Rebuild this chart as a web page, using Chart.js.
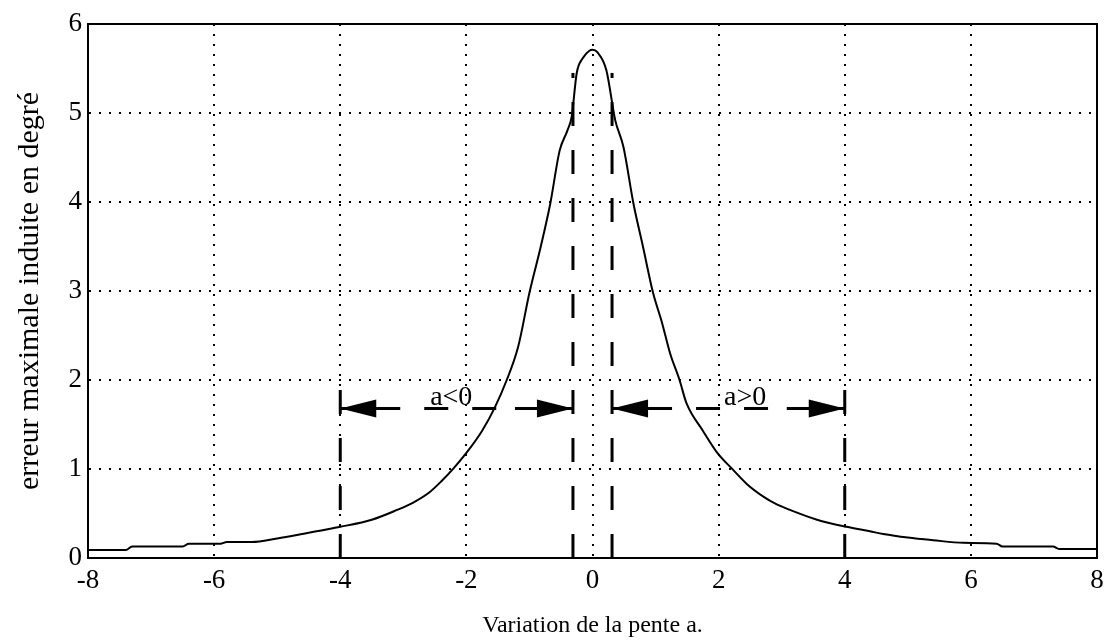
<!DOCTYPE html>
<html>
<head>
<meta charset="utf-8">
<script src="https://cdn.jsdelivr.net/npm/chart.js@4.4.1/dist/chart.umd.min.js"></script>
<style>
  html, body { margin: 0; padding: 0; background: #fff; }
  #wrap { width: 1111px; height: 642px; }
</style>
</head>
<body>
<div id="wrap"><canvas id="courbe" width="1111" height="642"></canvas></div>
<script>
// erreur maximale en fonction de la pente a
var pente = [-8, -7.4, -7.3, -6.5, -6.4, -5.9, -5.8, -5.4, -5.0, -4.6, -4.3, -4.0, -3.5, -3.1, -2.85,
    -2.6, -2.4, -2.2, -2.0, -1.75, -1.55, -1.36, -1.18, -1.0, -0.82, -0.67, -0.52, -0.40, -0.33,
    -0.25, -0.15, -0.05, 0, 0.08, 0.22, 0.36, 0.49, 0.65, 0.80, 0.96, 1.1, 1.23, 1.38, 1.49, 1.75,
    1.97, 2.23, 2.45, 2.71, 2.9, 3.13, 3.56, 4.03, 4.4, 4.61, 5.0, 5.4, 5.88, 6.41, 6.5, 7.3, 7.41, 8];
var erreur = [0.09, 0.09, 0.13, 0.13, 0.16, 0.16, 0.18, 0.18, 0.22, 0.27, 0.31, 0.35, 0.43, 0.54, 0.62,
    0.73, 0.86, 1.01, 1.18, 1.43, 1.69, 2.0, 2.37, 2.98, 3.5, 3.98, 4.58, 4.8, 4.96,
    5.45, 5.62, 5.70, 5.71, 5.68, 5.48, 4.92, 4.62, 3.98, 3.5, 2.98, 2.65, 2.30, 2.0, 1.74, 1.43,
    1.19, 0.99, 0.83, 0.69, 0.61, 0.54, 0.43, 0.35, 0.30, 0.27, 0.23, 0.20, 0.17, 0.16, 0.13, 0.13, 0.10, 0.10];

// bornes verticales en tirets et leur hauteur
var bornes = [-4, -0.31, 0.31, 4];
var hautBornes = [1.9, 5.45, 5.45, 1.9];

// intervalles fléchés
var debutFleche = [-4, 0.31];
var finFleche = [-0.31, 4];
var niveauFleche = 1.68;
var texteFleche = ['a<0', 'a>0'];
var centreTexte = [-2.24, 2.42];

var xTicks = [-8, -6, -4, -2, 0, 2, 4, 6, 8];
var yTicks = [0, 1, 2, 3, 4, 5, 6];

var police = '"Liberation Serif", "Times New Roman", serif';

var datasets = [{
    data: pente.map(function (p, i) { return { x: p, y: erreur[i] }; }),
    borderColor: '#000',
    borderWidth: 2,
    pointRadius: 0,
    showLine: true,
    cubicInterpolationMode: 'monotone'
}];

bornes.forEach(function (b, i) {
    datasets.push({
        data: [{ x: b, y: 0 }, { x: b, y: hautBornes[i] }],
        borderColor: '#000',
        borderWidth: 3,
        borderDash: [24, 24],
        pointRadius: 0,
        showLine: true
    });
});

debutFleche.forEach(function (d, i) {
    datasets.push({
        data: [{ x: d, y: niveauFleche }, { x: finFleche[i], y: niveauFleche }],
        borderColor: '#000',
        borderWidth: 3,
        borderDash: [24, 24],
        borderDashOffset: 12,
        pointRadius: 0,
        showLine: true
    });
});

// têtes de flèche et textes a<0 / a>0
var fleches = {
    id: 'fleches',
    afterDatasetsDraw: function (chart) {
        var ctx = chart.ctx;
        var sx = chart.scales.x, sy = chart.scales.y;
        var yy = sy.getPixelForValue(niveauFleche);
        ctx.save();
        ctx.fillStyle = '#000';
        ctx.strokeStyle = '#000';
        ctx.lineWidth = 3;
        function tete(xp, sens) {
            ctx.beginPath();
            ctx.moveTo(xp, yy);
            ctx.lineTo(xp + sens * 36, yy - 9);
            ctx.lineTo(xp + sens * 36, yy + 9);
            ctx.closePath();
            ctx.fill();
            ctx.beginPath();
            ctx.moveTo(xp, yy);
            ctx.lineTo(xp + sens * 58, yy);
            ctx.stroke();
        }
        debutFleche.forEach(function (d, i) {
            tete(sx.getPixelForValue(d), 1);
            tete(sx.getPixelForValue(finFleche[i]), -1);
            ctx.font = '28px ' + police;
            ctx.textAlign = 'center';
            ctx.textBaseline = 'alphabetic';
            ctx.fillText(texteFleche[i], sx.getPixelForValue(centreTexte[i]), yy - 3);
        });
        ctx.restore();
    }
};

new Chart(document.getElementById('courbe'), {
    type: 'scatter',
    data: { datasets: datasets },
    plugins: [fleches],
    options: {
        responsive: false,
        animation: false,
        layout: { padding: { top: 24, right: 14, left: 0, bottom: 0 } },
        plugins: { legend: { display: false }, tooltip: { enabled: false } },
        scales: {
            x: {
                type: 'linear', min: -8, max: 8,
                afterBuildTicks: function (s) { s.ticks = xTicks.map(function (v) { return { value: v }; }); },
                afterFit: function (s) { s.height = 84; },
                grid: { color: '#000', lineWidth: 2, drawTicks: false },
                border: { color: '#000', width: 2, dash: [2, 8] },
                ticks: { color: '#000', font: { family: police, size: 27 }, padding: 7, maxRotation: 0 },
                title: {
                    display: true, text: 'Variation de la pente a.', color: '#000',
                    font: { family: police, size: 24 }, padding: { top: 0, bottom: 2 }
                }
            },
            y: {
                type: 'linear', min: 0, max: 6,
                afterBuildTicks: function (s) { s.ticks = yTicks.map(function (v) { return { value: v }; }); },
                afterFit: function (s) { s.width = 88; },
                grid: { color: '#000', lineWidth: 2, drawTicks: false },
                border: { color: '#000', width: 2, dash: [2, 8] },
                ticks: { color: '#000', font: { family: police, size: 27 }, padding: 6 },
                title: {
                    display: true, text: 'erreur maximale induite en degré', color: '#000',
                    font: { family: police, size: 30 }, padding: { top: 12, bottom: 0 }
                }
            },
            x2: {
                type: 'linear', position: 'top', min: -8, max: 8,
                afterFit: function (s) { s.height = 0; },
                ticks: { display: false },
                grid: { display: false, drawTicks: false },
                border: { display: true, color: '#000', width: 2 }
            },
            y2: {
                type: 'linear', position: 'right', min: 0, max: 6,
                afterFit: function (s) { s.width = 0; },
                ticks: { display: false },
                grid: { display: false, drawTicks: false },
                border: { display: true, color: '#000', width: 2 }
            }
        }
    }
});
</script>
</body>
</html>
